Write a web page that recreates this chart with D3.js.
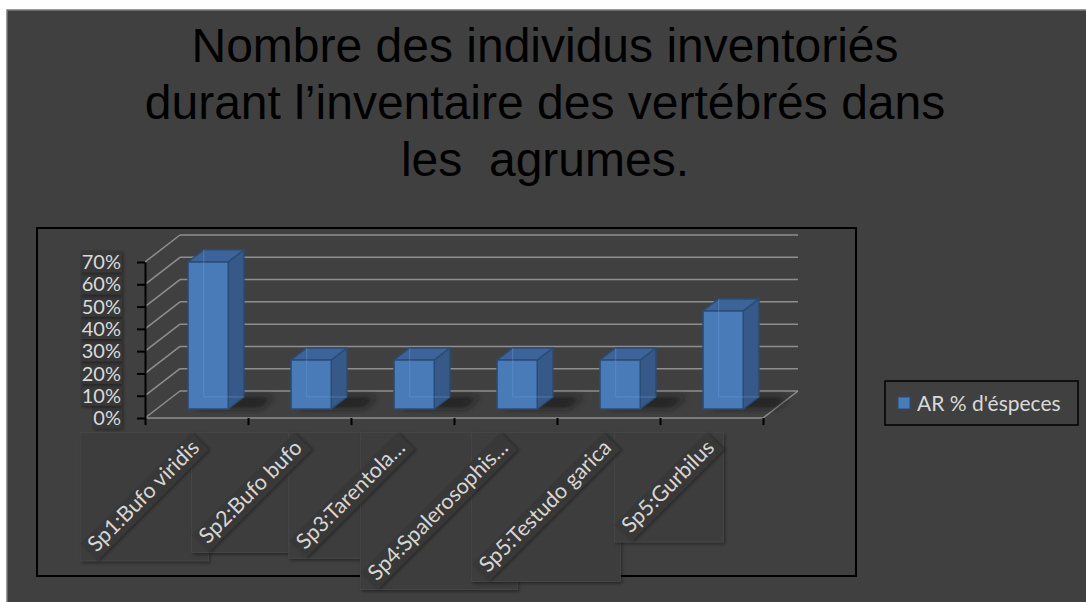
<!DOCTYPE html>
<html><head><meta charset="utf-8">
<script src="https://cdn.jsdelivr.net/npm/d3@7"></script>
<style>body{margin:0;background:#fff}svg{display:block}</style>
</head><body>
<svg id="chart" width="1086" height="602"></svg>
<script>
const titleLines = ["Nombre des individus inventoriés", "durant l’inventaire des vertébrés dans", "les  agrumes."];
const categories = ["Sp1:Bufo viridis", "Sp2:Bufo bufo", "Sp3:Tarentola…", "Sp4:Spalerosophis…", "Sp5:Testudo garica", "Sp5:Gurbilus"];
const values = [0.66, 0.22, 0.22, 0.22, 0.22, 0.44];
const yTicks = [0, 0.1, 0.2, 0.3, 0.4, 0.5, 0.6, 0.7];
const seriesName = "AR % d'éspeces";

const svg = d3.select("#chart");
const defs = svg.append("defs");
defs.append("filter").attr("id","blur").attr("x","-50%").attr("y","-50%").attr("width","200%").attr("height","200%")
  .append("feGaussianBlur").attr("stdDeviation",3.5);
const sh = defs.append("filter").attr("id","shadow").attr("x","-20%").attr("y","-20%").attr("width","140%").attr("height","140%");
sh.append("feDropShadow").attr("dx",1.5).attr("dy",2).attr("stdDeviation",1.5).attr("flood-color","#000").attr("flood-opacity",0.35);

// page background
svg.append("rect").attr("x",7).attr("y",10).attr("width",1086).attr("height",602)
  .attr("fill","#404040").attr("stroke","#7a7a7a").attr("stroke-width",1.5);

// title
const title = svg.append("text").attr("font-family","'Liberation Sans', Arial, sans-serif")
  .attr("font-size",48).attr("fill","#000").attr("text-anchor","middle").style("white-space","pre");
titleLines.forEach((t,i)=>title.append("tspan").attr("x",545).attr("y",62+i*57).text(t));

// chart frame
svg.append("rect").attr("x",37).attr("y",228).attr("width",819).attr("height",348)
  .attr("fill","none").attr("stroke","#000").attr("stroke-width",2);

const DX = 35, DY = 27;
const x = d3.scaleBand().domain(categories).range([145, 763]);
const y = d3.scaleLinear().domain([0, 0.7]).range([418, 262]);
const P = (px, v, d) => [px + d*DX, y(v) - d*DY];
const line = d3.line();

// gridlines (back wall + left wall)
const grid = svg.append("g").attr("stroke","#8e8e8e").attr("stroke-width",1.5).attr("fill","none");
yTicks.forEach(t=>{
  grid.append("path").attr("d", line([P(145,t,1), P(763,t,1)]));
  grid.append("path").attr("d", line([P(145,t,0), P(145,t,1)]));
});
// floor
grid.append("path").attr("d", line([P(145,0,0), P(763,0,0), P(763,0,1)]));

const d0 = 0.333, d1 = 0.78;
const bars = svg.append("g");
categories.forEach((c,i)=>{
  const cx = x(c) + x.bandwidth()/2, hw = x.bandwidth()*0.195;
  const xl = cx - hw, xr = cx + hw;
  bars.append("path").attr("d", line([P(xl+6,0,d0+0.05), P(xr+30,0,d0+0.05), P(xr+30,0,d1), P(xl+6,0,d1)])+"Z")
    .attr("fill","#151515").attr("opacity",0.75).attr("filter","url(#blur)");
});
categories.forEach((c,i)=>{
  const v = values[i];
  const cx = x(c) + x.bandwidth()/2, hw = x.bandwidth()*0.195;
  const xl = cx - hw, xr = cx + hw;
  const g = bars.append("g").attr("stroke","#2b4c74").attr("stroke-width",1.5).attr("stroke-linejoin","round");
  g.append("path").attr("d", line([P(xr,0,d0), P(xr,0,d1), P(xr,v,d1), P(xr,v,d0)])+"Z").attr("fill","#36598a");
  g.append("path").attr("d", line([P(xl,v,d0), P(xr,v,d0), P(xr,v,d1), P(xl,v,d1)])+"Z").attr("fill","#3c649a");
  g.append("path").attr("d", line([P(xl,0,d0), P(xr,0,d0), P(xr,v,d0), P(xl,v,d0)])+"Z").attr("fill","#4a7bb9");
  g.append("path").attr("d", line([P(xl,v,d1), P(xl,0,d1), P(xr,0,d1)]))
    .attr("fill","none").attr("stroke","#6a98d2").attr("stroke-opacity",0.45).attr("stroke-width",1);
});

// axes
const yAxis = svg.append("g").attr("transform","translate(145,0)")
  .call(d3.axisLeft(y).tickValues(yTicks).tickSize(8).tickSizeOuter(0).tickFormat(""));
yAxis.selectAll("path,line").attr("stroke","#000").attr("stroke-width",2);

const xt = d3.scaleLinear().domain([0, categories.length]).range(x.range());
const xAxis = svg.append("g").attr("transform","translate(0,418)")
  .call(d3.axisBottom(xt).tickValues(d3.range(categories.length+1)).tickSize(7).tickFormat(""));
xAxis.select(".domain").remove();
xAxis.selectAll("line").attr("stroke","#000").attr("stroke-width",2);

// y labels with boxes
const yl = svg.append("g");
yTicks.forEach(t=>{
  const gg = yl.append("g");
  const tx = gg.append("text").attr("x",121).attr("y",y(t)).attr("dy","0.36em")
    .attr("text-anchor","end").attr("font-family","Lato, 'Open Sans', sans-serif").attr("font-size",20)
    .attr("fill","#dadada").text(d3.format(".0%")(t));
  const b = tx.node().getBBox();
  gg.insert("rect","text").attr("x",b.x-1).attr("y",b.y+1).attr("width",b.width+2).attr("height",b.height-2)
    .attr("fill","#373737").attr("filter","url(#shadow)");
});

// x labels: outer boxes first, then rotated bands + text
const r = Math.SQRT1_2;
const outerG = svg.append("g"), textG = svg.append("g");
categories.forEach((c,i)=>{
  const cx = x(c) + x.bandwidth()/2;
  const ax = cx + 4, ay = 449;
  const g = textG.append("g").attr("transform",`translate(${ax},${ay}) rotate(-45)`);
  const band = g.append("rect");
  const tx = g.append("text").attr("text-anchor","end").attr("font-family","Lato, 'Open Sans', sans-serif")
    .attr("font-size",21.5).attr("fill","#d6d6d6").text(c);
  const L = tx.node().getComputedTextLength();
  const u0 = -L-5, u1 = 5, v0 = -18, v1 = 6;
  band.attr("x",u0).attr("y",v0).attr("width",u1-u0).attr("height",v1-v0).attr("fill","#393939").attr("filter","url(#shadow)");
  const pts = [[u0,v0],[u1,v0],[u1,v1],[u0,v1]].map(([u,v])=>[ax + r*u + r*v, ay - r*u + r*v]);
  const xs = pts.map(p=>p[0]), ys = pts.map(p=>p[1]);
  outerG.append("rect").attr("x",d3.min(xs)).attr("y",d3.min(ys)).attr("width",d3.max(xs)-d3.min(xs)).attr("height",d3.max(ys)-d3.min(ys))
    .attr("fill","#3c3c3c").attr("stroke","#474747").attr("stroke-width",1).attr("filter","url(#shadow)");
});

// legend
const lg = svg.append("g");
lg.append("rect").attr("x",885).attr("y",381).attr("width",193).attr("height",44)
  .attr("fill","none").attr("stroke","#000").attr("stroke-width",1.5);
lg.append("rect").attr("x",898).attr("y",397).attr("width",12).attr("height",12)
  .attr("fill","#4a7bb9").attr("stroke","#2b4c74").attr("stroke-width",1);
lg.append("text").attr("x",917).attr("y",411).attr("font-family","Lato, 'Open Sans', sans-serif")
  .attr("font-size",21).attr("fill","#d9d9d9").text(seriesName);
</script>
</body></html>
